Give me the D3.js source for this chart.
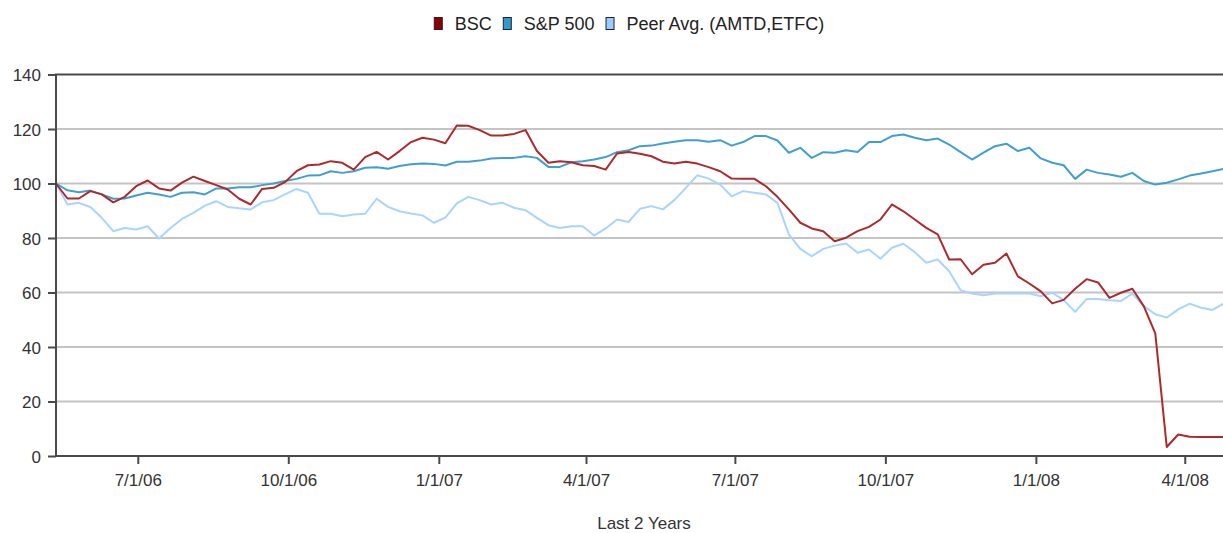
<!DOCTYPE html>
<html>
<head>
<meta charset="utf-8">
<script src="https://cdn.jsdelivr.net/npm/d3@7"></script>
<style>
  body { margin: 0; background: #fff; }
  svg text { font-family: "Liberation Sans", Arial, sans-serif; }
</style>
</head>
<body>
<div id="chart"></div>
<script>
// weekly closes, indexed to 100, starting 5/12/06
const startDate = new Date(2006, 4, 12);
const endDate = new Date(2008, 3, 25);

const seriesNames = ["BSC", "S&P 500", "Peer Avg. (AMTD,ETFC)"];
const seriesColors = ["#ad2a2c", "#3fa0d0", "#a8d4ff"];
const swatchColors = ["#8b0000", "#3399cc", "#99ccff"];

const bsc = [100, 94.5, 94.5, 97.2, 96, 93.1, 95.1, 99, 101.1, 98.2, 97.4, 100.3, 102.5, 100.9, 99.4, 97.8,
  94.4, 92.3, 98, 98.4, 100.5, 104.5, 106.7, 107, 108.2, 107.6, 105.1, 109.7, 111.6, 108.8, 111.9, 115.2,
  116.8, 116.1, 114.8, 121.3, 121.2, 119.6, 117.6, 117.6, 118.2, 119.6, 111.9, 107.6, 108.2, 107.8, 106.7,
  106.4, 105.1, 111, 111.6, 110.9, 110, 108, 107.3, 108, 107.3, 106, 104.5, 101.8, 101.7, 101.7, 99, 95.1,
  90.5, 85.6, 83.5, 82.5, 78.8, 80.1, 82.5, 84.1, 86.8, 92.3, 89.8, 86.8, 83.7, 81.3, 72.1, 72.2, 66.7,
  70.2, 70.9, 74.3, 65.9, 63.3, 60.4, 56, 57.3, 61.4, 64.9, 63.7, 58, 59.9, 61.4, 54.9, 45, 3.3, 7.9, 7.1,
  7, 7, 7];

const spx = [100, 97.5, 96.8, 97.4, 96, 94.4, 94.5, 95.6, 96.6, 96, 95.1, 96.6, 96.8, 96, 98.2, 98.2,
  98.6, 98.6, 99.4, 100, 100.9, 101.7, 102.9, 103, 104.5, 103.9, 104.5, 105.8, 106, 105.4, 106.4, 107.1,
  107.3, 107.2, 106.6, 108, 108, 108.4, 109.2, 109.4, 109.4, 110, 109.4, 106.1, 106.1, 107.8, 108.2, 108.8,
  109.7, 111.5, 112.2, 113.7, 113.9, 114.7, 115.3, 115.9, 115.9, 115.3, 115.9, 113.9, 115.2, 117.4, 117.4,
  115.8, 111.3, 113.1, 109.4, 111.5, 111.3, 112.2, 111.6, 115.2, 115.2, 117.4, 118, 116.8, 115.9, 116.5,
  114.3, 111.5, 108.8, 111.3, 113.7, 114.6, 111.9, 113.1, 109.2, 107.6, 106.7, 101.7, 105.1, 103.9, 103.3,
  102.5, 103.9, 100.9, 99.6, 100.3, 101.5, 102.9, 103.7, 104.5, 105.4];

const peer = [100, 92.3, 92.9, 91.4, 87.4, 82.5, 83.7, 83.1, 84.3, 79.8, 83.7, 87, 89.2, 91.9, 93.5, 91.4,
  90.9, 90.5, 93.1, 93.9, 96, 98, 96.6, 88.9, 88.9, 88, 88.6, 88.9, 94.4, 91.4, 89.8, 89, 88.3, 85.6, 87.5,
  92.7, 95.1, 93.9, 92.3, 92.9, 91.1, 90.2, 87.4, 84.7, 83.7, 84.3, 84.3, 80.9, 83.5, 86.8, 85.9, 90.7,
  91.7, 90.5, 93.9, 98.4, 103, 101.8, 99.6, 95.3, 97.2, 96.6, 96, 92.9, 81.3, 76, 73.3, 76, 77.2, 78, 74.6,
  75.8, 72.4, 76.4, 77.9, 74.8, 70.9, 72.1, 67.8, 60.8, 59.6, 59, 59.6, 59.6, 59.6, 59.6, 58.6, 59.9, 57.2,
  52.9, 57.6, 57.6, 57.2, 56.9, 59.6, 55, 52, 50.8, 53.8, 55.9, 54.4, 53.6, 56];

const yTicks = [0, 20, 40, 60, 80, 100, 120, 140];
const xTickDates = ["2006-07-01", "2006-10-01", "2007-01-01", "2007-04-01", "2007-07-01",
  "2007-10-01", "2008-01-01", "2008-04-01"];
const xTitle = "Last 2 Years";

const W = 1223, H = 533;
const plot = {left: 56, right: 1232, top: 74.5, bottom: 456};

const svg = d3.select("#chart").append("svg")
  .attr("width", W).attr("height", H);

const dates = bsc.map((d, i) => d3.timeDay.offset(startDate, i * 7));

const x = d3.scaleTime()
  .domain([startDate, endDate])
  .range([plot.left, 1224]);

const y = d3.scaleLinear()
  .domain([0, 140])
  .range([plot.bottom, plot.top]);

// gridlines
svg.append("g")
  .selectAll("line")
  .data(yTicks.filter(d => d > 0 && d < 140))
  .join("line")
  .attr("x1", plot.left).attr("x2", plot.right)
  .attr("y1", d => y(d)).attr("y2", d => y(d))
  .attr("stroke", "#c4c4c4")
  .attr("stroke-width", 2);

// lines
const line = d3.line()
  .x((d, i) => x(dates[i]))
  .y(d => y(d));

[bsc, spx, peer].reverse().forEach((s, k) => {
  svg.append("path")
    .datum(s)
    .attr("fill", "none")
    .attr("stroke", seriesColors[2 - k])
    .attr("stroke-width", 2)
    .attr("stroke-linejoin", "round")
    .attr("d", line);
});

// frame (top + left + bottom)
svg.append("path")
  .attr("d", `M${plot.right},${plot.top}H${plot.left}V${plot.bottom}H${plot.right}`)
  .attr("fill", "none")
  .attr("stroke", "#4a4a4a")
  .attr("stroke-width", 2);

// y axis
const yAxis = d3.axisLeft(y).tickValues(yTicks).tickSize(8).tickPadding(7);
const gy = svg.append("g")
  .attr("transform", `translate(${plot.left},0)`)
  .call(yAxis);
gy.select(".domain").remove();
gy.selectAll(".tick line").attr("stroke", "#4a4a4a").attr("stroke-width", 2);
gy.selectAll(".tick text")
  .attr("fill", "#333")
  .style("font-size", "17px")
  .attr("dy", "0.36em");

// x axis
const xAxis = d3.axisBottom(x)
  .tickValues(xTickDates.map(d => d3.timeParse("%Y-%m-%d")(d)))
  .tickFormat(d3.timeFormat("%-m/%-d/%y"))
  .tickSize(8).tickPadding(10);
const gx = svg.append("g")
  .attr("transform", `translate(0,${plot.bottom})`)
  .call(xAxis);
gx.select(".domain").remove();
gx.selectAll(".tick line").attr("stroke", "#4a4a4a").attr("stroke-width", 2);
gx.selectAll(".tick text")
  .attr("fill", "#333")
  .style("font-size", "17px");

svg.append("text")
  .attr("x", (plot.left + plot.right) / 2)
  .attr("y", 529)
  .attr("text-anchor", "middle")
  .attr("fill", "#333")
  .style("font-size", "17px")
  .text(xTitle);

// legend
const legend = svg.append("g");
let lx = 0;
seriesNames.forEach((name, i) => {
  const g = legend.append("g").attr("transform", `translate(${lx},0)`);
  g.append("rect")
    .attr("x", 0.5).attr("y", 17.5)
    .attr("width", 8).attr("height", 12)
    .attr("fill", swatchColors[i])
    .attr("stroke", "#222");
  const t = g.append("text")
    .attr("x", 21).attr("y", 30)
    .attr("fill", "#222")
    .style("font-size", "18px")
    .text(name);
  lx += 21 + t.node().getComputedTextLength() + 11;
});
const lw = lx - 11;
legend.attr("transform", `translate(${629 - lw / 2},0)`);
</script>
</body>
</html>
